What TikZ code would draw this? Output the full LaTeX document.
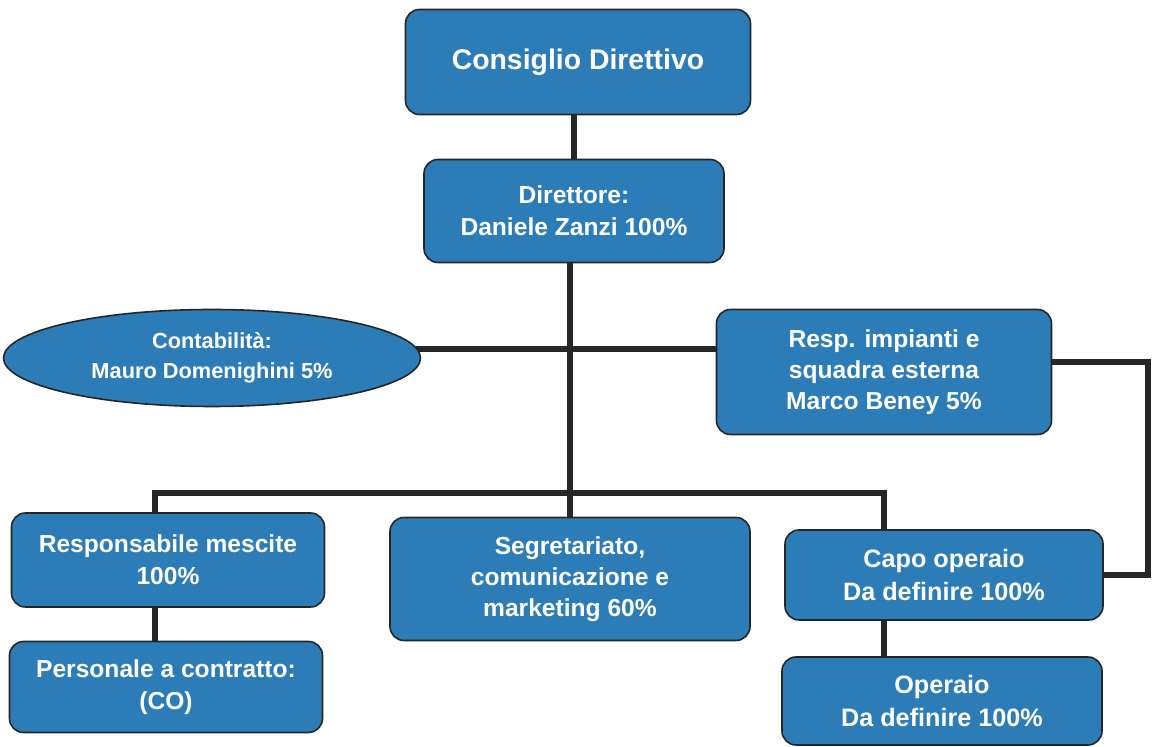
\documentclass[tikz,border=0pt]{standalone}
\usepackage{fontspec}
\setmainfont{Liberation Sans}
\usetikzlibrary{shapes.geometric,backgrounds}
\definecolor{boxblue}{RGB}{44,125,183}
\definecolor{linegray}{RGB}{38,38,38}
\begin{document}
\begin{tikzpicture}[x=0.5pt,y=-0.5pt,
  orgbox/.style={rectangle,rounded corners=7pt,draw=linegray,line width=0.8pt,fill=boxblue,
    text=white,font=\bfseries\fontsize{12.3}{16}\selectfont,align=center,inner sep=0pt},
  orgoval/.style={ellipse,draw=linegray,line width=0.8pt,fill=boxblue,
    text=white,font=\bfseries\fontsize{10.9}{15}\selectfont,align=center,inner sep=0pt},
  conn/.style={draw=linegray,line width=3pt}]
\useasboundingbox (0,0) rectangle (1153,747);
% nodes
\node[orgbox,minimum width=172.5pt,minimum height=52.5pt,font=\bfseries\fontsize{14.2}{18}\selectfont] (cd) at (578,62) {Consiglio Direttivo};
\node[orgbox,minimum width=150pt,minimum height=51.5pt] (dir) at (574,211) {Direttore:\\Daniele Zanzi 100\%};
\node[orgoval,minimum width=208.5pt,minimum height=48.5pt] (cont) at (212,358) {Contabilità:\\Mauro Domenighini 5\%};
\node[orgbox,minimum width=167.5pt,minimum height=62.5pt,font=\bfseries\fontsize{12.3}{15.5}\selectfont] (resp) at (884,372) {Resp. impianti e\\squadra esterna\\Marco Beney 5\%};
\node[orgbox,minimum width=156.5pt,minimum height=47pt] (mesc) at (168,560) {Responsabile mescite\\100\%};
\node[orgbox,minimum width=156.5pt,minimum height=45.5pt] (pers) at (166,687) {Personale a contratto:\\(CO)};
\node[orgbox,minimum width=180pt,minimum height=61.5pt,font=\bfseries\fontsize{12.3}{15.5}\selectfont] (seg) at (570,579) {Segretariato,\\comunicazione e\\marketing 60\%};
\node[orgbox,minimum width=159pt,minimum height=45pt,font=\bfseries\fontsize{12.6}{16.5}\selectfont] (capo) at (944,575) {Capo operaio\\Da definire 100\%};
\node[orgbox,minimum width=160pt,minimum height=44pt,font=\bfseries\fontsize{12.6}{16.5}\selectfont] (op) at (942,701) {Operaio\\Da definire 100\%};
% helper coordinates
\coordinate (rowA) at (0,349);
\coordinate (bl) at (155,493);
\coordinate (br) at (884,493);
\coordinate (rc) at (1148,362);
% connectors
\begin{scope}[on background layer]
\fill[white] (0,0) rectangle (1153,747);
\draw[conn] (cd.south -| dir.north) -- (dir.north);
\draw[conn] (dir.south -| seg.north) -- (seg.north);
\draw[conn] (cont.center |- rowA) -- (resp.center |- rowA);
\draw[conn] (mesc.north -| bl) -- (bl) -- (br) -- (capo.north -| br);
\draw[conn] (mesc.south -| bl) -- (pers.north -| bl);
\draw[conn] (capo.south -| br) -- (op.north -| br);
\draw[conn] (resp.center |- rc) -- (rc) |- (capo.center);
\end{scope}
\end{tikzpicture}
\end{document}
